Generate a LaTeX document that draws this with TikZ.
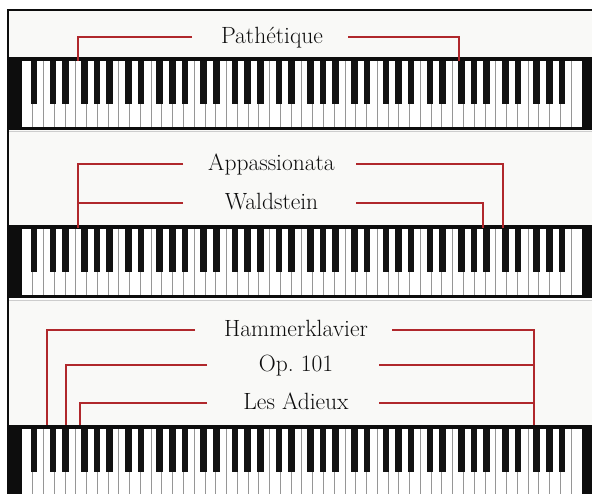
\documentclass[tikz,border=0pt]{standalone}
\usepackage{tikz}
\usetikzlibrary{calc}
\definecolor{panel}{RGB}{249,249,247}
\definecolor{bracketred}{RGB}{176,40,44}
\definecolor{keygray}{RGB}{150,150,150}
\definecolor{rim}{RGB}{205,205,205}

\begin{document}
\begin{tikzpicture}[x=1pt,y=-1pt,line join=miter,
  sonata/.style={font=\fontsize{23.5}{28}\selectfont,text=black!95,inner sep=0pt,anchor=base},
  bracket/.style={draw=bracketred,line width=2pt},
  blackkey/.style={fill=black!93},
  keyline/.style={draw=keygray,line width=1pt}]
\useasboundingbox (0,0) rectangle (592,493);
\clip (0,0) rectangle (592,493);
\fill[white] (0,0) rectangle (592,493);
\fill[panel] (9,11) rectangle (592,57);
\fill[panel] (9,130) rectangle (592,225);
\fill[panel] (9,300) rectangle (592,425);
\draw[rim] (9,131) -- (592,131);
\draw[rim] (9,300.5) -- (592,300.5);
\fill[black!95] (7,9) rectangle (592,11);
\fill[black!95] (7,9) rectangle (9,493);

\def\w{10.769}
\foreach \ky/\kb in {57/130,225/298,425/500}{
  \fill[black!95] (7,\ky) rectangle (592,\kb);
  \fill[white] (22,\ky+4) rectangle (582,\kb-3);
  \foreach \i in {1,...,51}
    \draw[keyline] (22+\i*\w,\ky+4) -- (22+\i*\w,\kb-3);
  \foreach \o in {0,...,7}
    \foreach \s in {1,3,6,8,10}{
      \pgfmathsetmacro\cx{22+(7*\o-5)*\w+(\s+0.5)*7*\w/12}
      \ifdim\cx pt>25pt
        \fill[blackkey] (\cx-3.3,\ky+4) rectangle (\cx+3.3,\ky+47);
      \fi
    }
}

\node[sonata] (pathetique) at (272,43.5) {Pathétique};
\coordinate (pathL) at (192,37.3);
\coordinate (pathR) at (348,37.3);
\coordinate (keyF1) at (78.3,61);
\coordinate (keyF6) at (459.3,61);
\draw[bracket] (pathL) -| (keyF1);
\draw[bracket] (pathR) -| (keyF6);

\node[sonata] (appassionata) at (271.5,170) {Appassionata};
\node[sonata] (waldstein) at (271.5,209.6) {Waldstein};
\coordinate (appL) at (183,163.5);
\coordinate (appR) at (356,163.5);
\coordinate (walL) at (183,203.3);
\coordinate (walR) at (356,203.3);
\coordinate (keyF1b) at (78.3,228);
\coordinate (keyC7) at (502.7,228);
\coordinate (keyA6) at (483.3,228);
\draw[bracket] (appL) -| (keyF1b);
\draw[bracket] (walL) -- (walL -| keyF1b);
\draw[bracket] (appR) -| (keyC7);
\draw[bracket] (walR) -| (keyA6);

\node[sonata] (hammerklavier) at (296,336.3) {Hammerklavier};
\node[sonata] (op101) at (296,371.6) {Op.\ 101};
\node[sonata] (adieux) at (296,409) {Les Adieux};
\coordinate (hamL) at (195,330);
\coordinate (hamR) at (392,330);
\coordinate (opL) at (207,365.3);
\coordinate (opR) at (379,365.3);
\coordinate (adL) at (207,402.7);
\coordinate (adR) at (379,402.7);
\coordinate (keyC1) at (47,425);
\coordinate (keyE1) at (66.3,425);
\coordinate (keyF1c) at (80.3,425);
\coordinate (keyF7) at (534,425);
\draw[bracket] (hamL) -| (keyC1);
\draw[bracket] (opL) -| (keyE1);
\draw[bracket] (adL) -| (keyF1c);
\draw[bracket] (hamR) -| (keyF7);
\draw[bracket] (opR) -- (opR -| keyF7);
\draw[bracket] (adR) -- (adR -| keyF7);
\end{tikzpicture}
\end{document}
